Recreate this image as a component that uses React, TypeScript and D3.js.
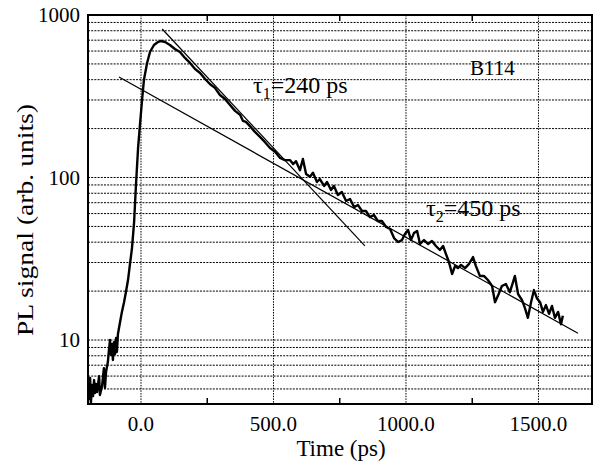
import React from "react";
import * as d3 from "d3";

const timePs = [
  -196, -192, -189, -185, -181, -177, -174, -170, -166, -158, -155, -147, -140, -136, -132, -125, -121, -117, -113, -109,
  -106, -102, -98, -94, -91, -87, -79, -72, -64, -57, -49, -42, -34, -26, -19, -11, -4, 4, 11, 23,
  34, 49, 64, 75, 91, 109, 128, 147, 166, 185, 204, 223, 242, 260, 279, 298, 317, 336, 355, 374,
  385, 396, 411, 430, 449, 468, 487, 506, 525, 543, 562, 574, 585, 600, 611, 623, 638, 649, 664, 675,
  691, 702, 717, 728, 743, 758, 774, 789, 804, 819, 834, 849, 864, 879, 894, 909, 925, 940, 955, 970,
  985, 996, 1008, 1019, 1030, 1042, 1053, 1068, 1083, 1098, 1113, 1128, 1140, 1151, 1162, 1174, 1185, 1196, 1208, 1223,
  1238, 1253, 1264, 1279, 1294, 1309, 1325, 1336, 1347, 1362, 1377, 1392, 1404, 1411, 1423, 1438, 1449, 1460, 1472, 1483,
  1494, 1506, 1517, 1528, 1540, 1551, 1562, 1574, 1585, 1592,
];
const signal = [
  4.27, 5.84, 4.1, 5.29, 4.52, 5.67, 4.72, 5.36, 4.79, 6.0, 4.59, 5.21, 6.72, 5.07, 6.35, 7.32, 8.68, 10, 8.09, 9.45,
  7.53, 9.7, 8.2, 10.3, 8.44, 10.9, 12.9, 14.9, 17.1, 19.7, 23.4, 29, 36.8, 53.2, 89.9, 152, 210, 300, 398, 507,
  592, 654, 682, 692, 682, 654, 618, 592, 544, 507, 465, 440, 404, 376, 356, 322, 304, 279, 257, 243,
  223, 220, 207, 191, 178, 165, 152, 144, 132, 128, 128, 121, 126, 111, 130, 105, 101, 107, 93.8, 97.9,
  88.7, 93.8, 83.8, 88.7, 78, 81.4, 71.7, 73.8, 65.8, 67.7, 62.2, 62.2, 57.1, 58.8, 54, 54, 49.6, 48.2, 42.4, 40.1,
  41.2, 44.9, 47.5, 41.2, 45.5, 46.9, 39, 41.2, 39, 40.7, 37.9, 35.8, 37.9, 33.8, 30.2, 25.5, 28.5, 27.7, 29, 27.7,
  29.4, 32.4, 28.5, 24.8, 24.8, 23.4, 21.5, 17.1, 18.7, 21.5, 22.1, 19.7, 22.7, 24.8, 19.2, 17.6, 15.7, 13.7, 17.1, 20.3,
  18.1, 17.1, 14.9, 16.4, 14.5, 16.2, 13.7, 14.9, 12.5, 14.1,
];
const fit1Time = [80, 845];
const fit1Signal = [820, 38];
const fit2Time = [-83, 1649];
const fit2Signal = [415, 11];
const xTicks = [0, 500, 1000, 1500];
const xTickLabels = ["0.0", "500.0", "1000.0", "1500.0"];
const xMinorTicks = [250, 750, 1250];
const yTicks = [10, 100, 1000];
const yTickLabels = ["10", "100", "1000"];

const W = 593;
const H = 468;
const L = 88, R = 592, T = 15, B = 404;
const FONT = "'Liberation Serif', 'Times New Roman', serif";

export default function App() {
  const x = d3.scaleLinear().domain([-200, 1702]).range([L, R]);
  const y = d3.scaleLog().domain([4.04, 1000]).range([B, T]);

  const gridVals: number[] = [];
  for (const dec of [1, 10, 100]) {
    for (let k = 1; k <= 9; k++) {
      const v = k * dec;
      if (v > 4.04 && v < 1000) gridVals.push(v);
    }
  }

  const line = d3
    .line<number>()
    .x((_, i) => x(timePs[i]))
    .y((d) => y(d));
  const fitLine = (ts: number[], vs: number[]) =>
    d3
      .line<number>()
      .x((_, i) => x(ts[i]))
      .y((d) => y(d))(vs) as string;

  return (
    <svg
      width={W}
      height={H}
      style={{ position: "absolute", left: 0, top: 0, background: "#fff" }}
      fontFamily={FONT}
    >
      <defs>
        <clipPath id="plot">
          <rect x={L} y={T} width={R - L} height={B - T} />
        </clipPath>
      </defs>
      <rect x={0} y={0} width={W} height={H} fill="#fff" />
      {gridVals.map((v) => (
        <line
          key={"h" + v}
          x1={L}
          x2={R}
          y1={y(v)}
          y2={y(v)}
          stroke="#000"
          strokeWidth={1}
          strokeDasharray="2,1.2"
        />
      ))}
      {xTicks.map((t) => (
        <line
          key={"v" + t}
          x1={x(t)}
          x2={x(t)}
          y1={T}
          y2={B}
          stroke="#000"
          strokeWidth={1}
          strokeDasharray="1.5,1.2"
        />
      ))}
      {xMinorTicks.map((t) => (
        <g key={"m" + t}>
          <line x1={x(t)} x2={x(t)} y1={B} y2={B - 6} stroke="#000" strokeWidth={1.5} />
          <line x1={x(t)} x2={x(t)} y1={T} y2={T + 6} stroke="#000" strokeWidth={1.5} />
        </g>
      ))}
      <g clipPath="url(#plot)">
        <path
          d={line(signal) as string}
          fill="none"
          stroke="#000"
          strokeWidth={2.4}
          strokeLinejoin="round"
        />
        <path d={fitLine(fit1Time, fit1Signal)} fill="none" stroke="#000" strokeWidth={1.2} />
        <path d={fitLine(fit2Time, fit2Signal)} fill="none" stroke="#000" strokeWidth={1.2} />
      </g>
      <rect x={L} y={T} width={R - L} height={B - T} fill="none" stroke="#000" strokeWidth={2} />
      {xTicks.map((t, i) => (
        <text key={"xl" + t} x={x(t)} y={431} textAnchor="middle" fontSize={21}>
          {xTickLabels[i]}
        </text>
      ))}
      {yTicks.map((v, i) => (
        <text key={"yl" + v} x={80} y={y(v) + 7} textAnchor="end" fontSize={21}>
          {yTickLabels[i]}
        </text>
      ))}
      <text x={341} y={456} textAnchor="middle" fontSize={23}>
        Time (ps)
      </text>
      <text
        transform={`translate(33, 220) rotate(-90)`}
        textAnchor="middle"
        fontSize={23}
        textLength={232}
        lengthAdjust="spacingAndGlyphs"
      >
        PL signal (arb. units)
      </text>
      <text x={470} y={75} fontSize={21}>
        B114
      </text>
      <text x={253} y={93} fontSize={24}>
        τ<tspan fontSize={16} dy={6}>1</tspan>
        <tspan dy={-6}>=240 ps</tspan>
      </text>
      <text x={426} y={216} fontSize={24}>
        τ<tspan fontSize={16} dy={6}>2</tspan>
        <tspan dy={-6}>=450 ps</tspan>
      </text>
    </svg>
  );
}
